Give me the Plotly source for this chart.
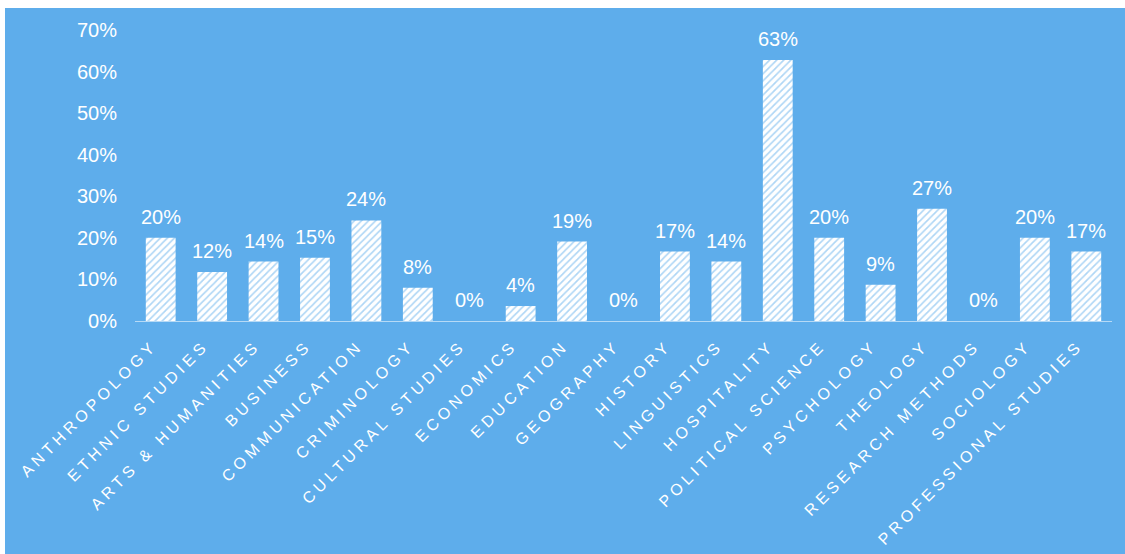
import plotly.graph_objects as go

categories = [
    "ANTHROPOLOGY", "ETHNIC STUDIES", "ARTS & HUMANITIES", "BUSINESS",
    "COMMUNICATION", "CRIMINOLOGY", "CULTURAL STUDIES", "ECONOMICS",
    "EDUCATION", "GEOGRAPHY", "HISTORY", "LINGUISTICS", "HOSPITALITY",
    "POLITICAL SCIENCE", "PSYCHOLOGY", "THEOLOGY", "RESEARCH METHODS",
    "SOCIOLOGY", "PROFESSIONAL STUDIES",
]
values = [0.200, 0.118, 0.143, 0.152, 0.242, 0.080, 0.0, 0.036, 0.191, 0.0,
          0.167, 0.143, 0.628, 0.200, 0.087, 0.270, 0.0, 0.200, 0.167]
y_ticks = [0, 0.1, 0.2, 0.3, 0.4, 0.5, 0.6, 0.7]

BG = "#5EADEB"
FONT = "Liberation Sans, Arial, Helvetica, sans-serif"

fig = go.Figure()
fig.add_trace(go.Bar(
    x=categories, y=values,
    marker=dict(
        color="white",
        line=dict(width=0),
        pattern=dict(shape="/", fgcolor=BG, bgcolor="white", size=5, solidity=0.33),
    ),
    hoverinfo="skip",
))

for c, v in zip(categories, values):
    fig.add_annotation(
        x=c, y=v, text=f"{round(v * 100)}%", showarrow=False,
        yanchor="bottom", yshift=8,
        font=dict(family=FONT, size=20, color="white"),
    )

fig.update_layout(
    width=1125, height=554,
    margin=dict(l=135, r=13, t=30, b=233),
    paper_bgcolor=BG, plot_bgcolor=BG,
    bargap=0.42,
    showlegend=False,
    font=dict(family=FONT, color="white"),
    shapes=[
        dict(type="rect", xref="paper", yref="paper",
             x0=-0.2, x1=(5 - 135) / 977, y0=-1, y1=2,
             fillcolor="white", line=dict(width=0), layer="below"),
        dict(type="rect", xref="paper", yref="paper",
             x0=-0.2, x1=1.2, y0=1 + 22 / 291, y1=2,
             fillcolor="white", line=dict(width=0), layer="below"),
    ],
)
fig.update_xaxes(
    tickangle=-45, showgrid=False, showline=True,
    linecolor="rgba(255,255,255,0.55)", linewidth=1,
    tickfont=dict(family=FONT, size=16, color="white"),
    ticks="", ticklabelstandoff=8, ticklabelshift=-8,
)
fig.update_yaxes(
    range=[0, 0.7], tickvals=y_ticks, tickformat=".0%",
    showgrid=False, zeroline=False, showline=False, ticks="",
    tickfont=dict(family=FONT, size=20, color="white"),
    ticklabelstandoff=17,
)

post = """
var s = document.createElement('style');
s.innerHTML = 'html, body { margin: 0; padding: 0; overflow: hidden; } .xtick text { letter-spacing: 4.2px; }';
document.head.appendChild(s);
"""
fig.write_html("out.html", post_script=post, config={"displayModeBar": False, "staticPlot": True})
